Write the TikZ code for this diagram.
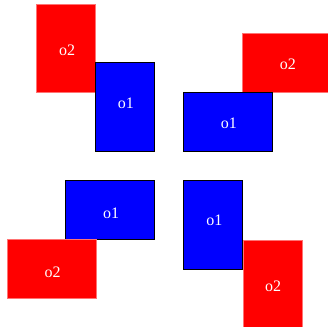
\documentclass[tikz,border=0pt]{standalone}
\usepackage{fontspec}
\setmainfont{Liberation Serif}
\begin{document}
\begin{tikzpicture}[x=1pt,y=-1pt,
  box/.style={rectangle,inner sep=0pt,outer sep=0pt},
  txt/.style={text=white,font=\fontsize{16}{16}\selectfont,inner sep=0pt,xshift=1pt},
  bluebox/.style={box,fill=blue,draw=black,line width=0.8pt},
  redbox/.style={box,fill=red,draw=red!55!white,line width=0.4pt},
  tall/.style={minimum width=59pt,minimum height=88.5pt},
  wide/.style={minimum width=88.5pt,minimum height=59pt}]
\useasboundingbox (0,0) rectangle (328,326);
\clip (0,0) rectangle (328,326);
% top-left
\node[redbox,tall,label={[txt,yshift=-2.5pt]center:o2}] (tlr) at (66,48) {};
\node[bluebox,tall,label={[txt,yshift=4pt]center:o1}] (tlb) at (124.8,106.9) {};
% top-right
\node[redbox,wide,label={[txt,yshift=-2pt]center:o2}] (trr) at (286.8,62.7) {};
\node[bluebox,wide,label={[txt,yshift=-2pt]center:o1}] (trb) at (227.8,121.7) {};
% bottom-left
\node[bluebox,wide,label={[txt,yshift=-3pt]center:o1}] (blb) at (110,210.2) {};
\node[redbox,wide,label={[txt,yshift=-3pt]center:o2}] (blr) at (51.5,268.9) {};
% bottom-right
\node[bluebox,tall,label={[txt,yshift=4.5pt]center:o1}] (brb) at (213.3,224.8) {};
\node[redbox,tall,label={[txt,yshift=-2.5pt]center:o2}] (brr) at (272.2,284) {};
\end{tikzpicture}
\end{document}
